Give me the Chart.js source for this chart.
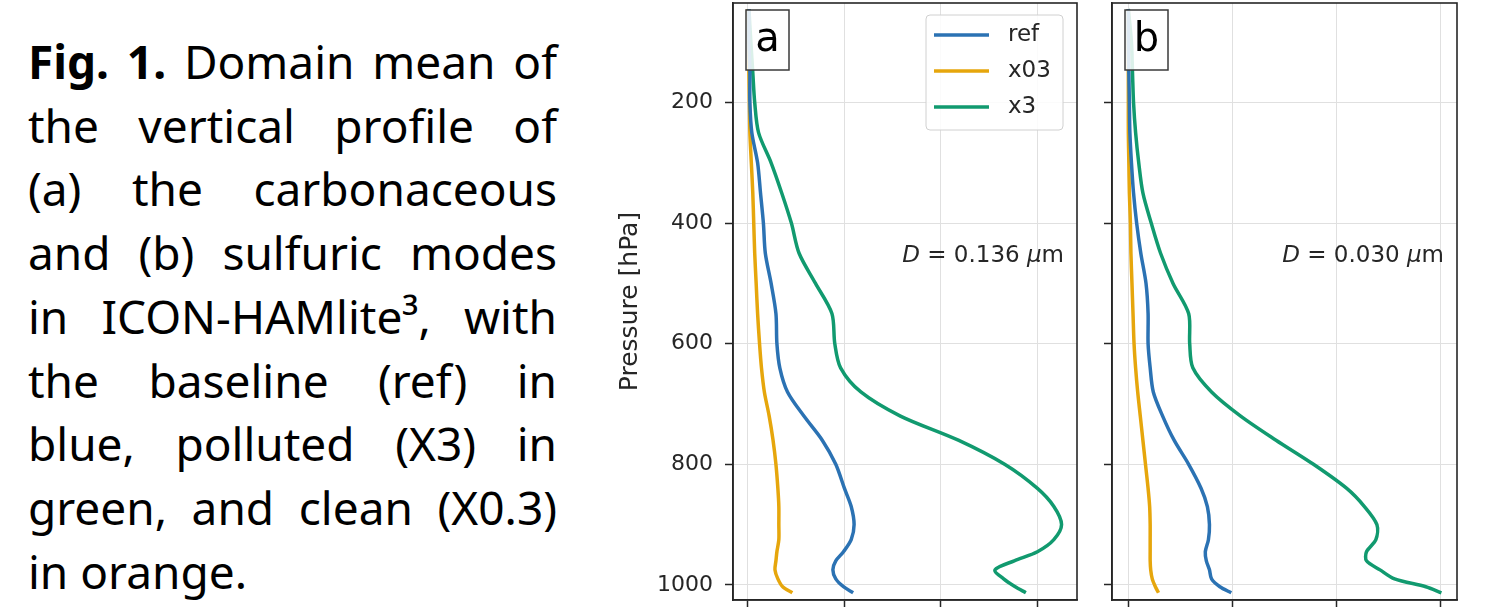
<!DOCTYPE html>
<html>
<head>
<meta charset="utf-8">
<script src="https://cdn.jsdelivr.net/npm/chart.js@4.4.0/dist/chart.umd.min.js"></script>
<style>
html, body { margin: 0; padding: 0; background: #fff; width: 1491px; height: 613px; overflow: hidden; }
#caption { position: absolute; left: 28px; top: 30px; width: 529px; font-family: "Noto Sans", sans-serif; font-size: 46px; line-height: 63.7px; color: #000; }
#caption div { text-align: justify; text-align-last: justify; white-space: nowrap; }
#caption div.last { text-align-last: left; }
#wrapA { position: absolute; left: 600px; top: 0; width: 490px; height: 613px; }
#wrapB { position: absolute; left: 1090px; top: 0; width: 401px; height: 613px; }
</style>
</head>
<body>
<div id="caption">
  <div><b>Fig. 1.</b> Domain mean of</div>
  <div>the vertical profile of</div>
  <div>(a) the carbonaceous</div>
  <div>and (b) sulfuric modes</div>
  <div>in ICON-HAMlite³, with</div>
  <div>the baseline (ref) in</div>
  <div>blue, polluted (X3) in</div>
  <div>green, and clean (X0.3)</div>
  <div class="last">in orange.</div>
</div>
<div id="wrapA"><canvas id="chartA"></canvas></div>
<div id="wrapB"><canvas id="chartB"></canvas></div>
<script>
// pressure levels [hPa] the profiles were read at
const pressure = [45, 100, 150, 200, 250, 300, 350, 400, 450, 500, 550, 600, 640, 680, 720, 760, 800, 840, 870, 900, 925, 945, 960, 975, 990, 1003, 1013];

// (a) carbonaceous mode, x in tick units (tick labels are cut off in the figure)
const refA = [0.01, 0.01, 0.02, 0.02, 0.04, 0.10, 0.13, 0.16, 0.18, 0.24, 0.29, 0.30, 0.33, 0.41, 0.58, 0.77, 0.91, 1.00, 1.07, 1.10, 1.07, 0.99, 0.91, 0.88, 0.91, 0.99, 1.09];
const x03A = [0.0, 0.005, 0.01, 0.015, 0.02, 0.035, 0.05, 0.06, 0.07, 0.085, 0.10, 0.12, 0.14, 0.17, 0.22, 0.26, 0.29, 0.31, 0.32, 0.32, 0.32, 0.30, 0.29, 0.28, 0.31, 0.36, 0.46];
const x3A = [0.01, 0.03, 0.05, 0.07, 0.11, 0.24, 0.35, 0.45, 0.53, 0.70, 0.87, 0.90, 0.96, 1.17, 1.58, 2.18, 2.66, 3.00, 3.17, 3.25, 3.17, 3.00, 2.76, 2.56, 2.65, 2.77, 2.88];

// (b) sulfuric mode
const refB = [0.0, 0.0, 0.005, 0.01, 0.015, 0.03, 0.05, 0.08, 0.12, 0.17, 0.19, 0.19, 0.21, 0.24, 0.33, 0.44, 0.58, 0.70, 0.76, 0.78, 0.77, 0.74, 0.75, 0.78, 0.80, 0.88, 0.99];
const x03B = [0, 0, 0, 0, 0, 0.005, 0.01, 0.02, 0.025, 0.035, 0.045, 0.055, 0.07, 0.09, 0.115, 0.14, 0.165, 0.19, 0.205, 0.21, 0.21, 0.21, 0.21, 0.215, 0.23, 0.26, 0.29];
const x3B = [0.0, 0.03, 0.04, 0.05, 0.07, 0.10, 0.14, 0.22, 0.31, 0.43, 0.58, 0.59, 0.62, 0.80, 1.08, 1.42, 1.78, 2.10, 2.27, 2.39, 2.38, 2.29, 2.29, 2.42, 2.56, 2.86, 3.01];

const seriesNames = ['ref', 'x03', 'x3'];
const seriesColors = ['#2b72b3', '#e6a60c', '#119a6f'];
const pressureTicks = [200, 400, 600, 800, 1000];
const xTicks = [0, 1, 2, 3];
const panelLabels = ['a', 'b'];
const diameters = ['0.136', '0.030'];

const mpl = 'DejaVu Sans';
const dark = '#262626';

const toPoints = vals => vals.map((v, i) => ({ x: v, y: pressure[i] }));

const panelDecor = {
    id: 'panelDecor',
    afterDatasetsDraw(chart, args, o) {
        const { ctx, chartArea: ca } = chart;
        ctx.save();
        // frame
        ctx.strokeStyle = dark;
        ctx.lineWidth = 1.6;
        ctx.strokeRect(ca.left, ca.top, ca.right - ca.left, ca.bottom - ca.top);

        // panel letter box
        const bx = ca.left + 13, by = ca.top + 7, bw = 43, bh = 60;
        ctx.fillStyle = 'rgba(255,255,255,0.85)';
        ctx.fillRect(bx, by, bw, bh);
        ctx.strokeStyle = '#3a3a3a';
        ctx.lineWidth = 1.5;
        ctx.strokeRect(bx, by, bw, bh);
        ctx.fillStyle = '#000';
        ctx.font = `40px "${mpl}"`;
        ctx.textAlign = 'center';
        ctx.textBaseline = 'middle';
        ctx.fillText(o.label, bx + bw / 2, by + bh / 2 + 1);

        // diameter annotation, right aligned
        ctx.textAlign = 'left';
        const parts = [
            ['D', 'italic'], [' = ' + o.diam + ' ', 'normal'], ['μ', 'italic'], ['m', 'normal']
        ];
        let w = 0;
        parts.forEach(p => { ctx.font = `${p[1]} 23px "${mpl}"`; w += ctx.measureText(p[0]).width; });
        let tx = ca.right - 13 - w;
        const ty = ca.top + 0.424 * (ca.bottom - ca.top);
        ctx.fillStyle = dark;
        parts.forEach(p => {
            ctx.font = `${p[1]} 23px "${mpl}"`;
            ctx.fillText(p[0], tx, ty);
            tx += ctx.measureText(p[0]).width;
        });

        // legend
        if (o.legend) {
            const lw = 137, lh = 115;
            const lx = ca.right - 14 - lw, ly = ca.top + 12;
            ctx.fillStyle = 'rgba(255,255,255,0.85)';
            ctx.strokeStyle = '#d0d0d0';
            ctx.lineWidth = 1;
            ctx.beginPath();
            ctx.roundRect(lx, ly, lw, lh, 4);
            ctx.fill();
            ctx.stroke();
            ctx.font = `23px "${mpl}"`;
            ctx.textBaseline = 'middle';
            chart.data.datasets.forEach((ds, i) => {
                const yy = ly + 20 + i * 36;
                ctx.strokeStyle = ds.borderColor;
                ctx.lineWidth = 3.5;
                ctx.beginPath();
                ctx.moveTo(lx + 8, yy);
                ctx.lineTo(lx + 63, yy);
                ctx.stroke();
                ctx.fillStyle = dark;
                ctx.fillText(ds.label, lx + 82, yy);
            });
        }
        ctx.restore();
    }
};

function makePanel(id, series, xMin, xMax, cfg) {
    const datasets = series.map((vals, i) => ({
        label: seriesNames[i],
        data: toPoints(vals),
        borderColor: seriesColors[i],
        backgroundColor: seriesColors[i],
        borderWidth: 3.5,
        pointRadius: 0,
        showLine: true,
        tension: 0.3
    }));

    return new Chart(document.getElementById(id), {
        type: 'scatter',
        data: { datasets },
        plugins: [panelDecor],
        options: {
            responsive: true,
            maintainAspectRatio: false,
            animation: false,
            layout: { padding: { top: 3, right: cfg.padRight, left: 0, bottom: 0 } },
            plugins: {
                legend: { display: false },
                tooltip: { enabled: false },
                panelDecor: { label: cfg.label, diam: cfg.diam, legend: cfg.legend }
            },
            scales: {
                x: {
                    type: 'linear',
                    min: xMin,
                    max: xMax,
                    afterBuildTicks: s => { s.ticks = xTicks.map(v => ({ value: v })); },
                    afterFit: s => { s.height = 13; s.paddingLeft = 0; s.paddingRight = 0; },
                    ticks: { display: false },
                    grid: { color: '#e0e0e0', lineWidth: 1, tickColor: dark, tickLength: 7, tickWidth: 1.5 },
                    border: { display: true, color: dark, width: 1.6 }
                },
                y: {
                    type: 'linear',
                    reverse: true,
                    min: 35,
                    max: 1025,
                    afterBuildTicks: s => { s.ticks = pressureTicks.map(v => ({ value: v })); },
                    afterFit: s => { s.width = cfg.yWidth; s.paddingTop = 0; s.paddingBottom = 0; },
                    ticks: {
                        display: cfg.yLabels,
                        color: dark,
                        padding: 12,
                        font: { family: mpl, size: 22 },
                        callback: v => String(v)
                    },
                    title: {
                        display: cfg.yLabels,
                        text: 'Pressure [hPa]',
                        color: dark,
                        font: { family: mpl, size: 25 },
                        padding: { top: 15, bottom: 0 }
                    },
                    grid: { color: '#e0e0e0', lineWidth: 1, tickColor: dark, tickLength: 8, tickWidth: 1.5 },
                    border: { display: true, color: dark, width: 1.6 }
                }
            }
        }
    });
}

makePanel('chartA', [refA, x03A, x3A], -0.155, 3.41,
    { label: panelLabels[0], diam: diameters[0], legend: true, yLabels: true, yWidth: 133, padRight: 13 });
makePanel('chartB', [refB, x03B, x3B], -0.157, 3.16,
    { label: panelLabels[1], diam: diameters[1], legend: false, yLabels: false, yWidth: 22, padRight: 34 });
</script>
</body>
</html>
